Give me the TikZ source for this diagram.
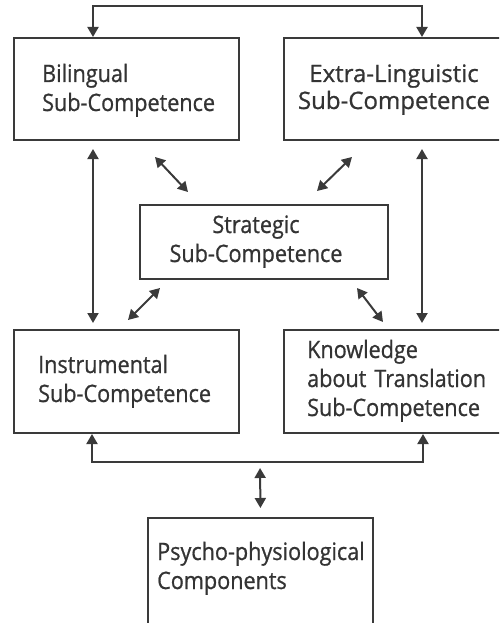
\documentclass[tikz,border=0pt]{standalone}
\usepackage{fontspec}
\setmainfont{Open Sans}
\newfontfamily\lblfont{Open Sans}[FakeBold=0.8, FakeStretch=0.9]
\newfontfamily\widefont{Open Sans}[FakeBold=0.8]
\usetikzlibrary{arrows.meta}
\definecolor{ink}{HTML}{3a3a3a}
\definecolor{txtc}{HTML}{333333}
\tikzset{
  box/.style={draw=ink, line width=2pt, rectangle, inner sep=0pt},
  lbl/.style={inner sep=0pt, text=txtc, text width=240pt,
    font=\lblfont\fontsize{24}{29}\selectfont},
  widelbl/.style={lbl, font=\widefont\fontsize{24}{27}\selectfont},
  arr/.style={draw=ink, line width=2pt,
    {Triangle[length=10pt,width=11pt]}-{Triangle[length=10pt,width=11pt]}}
}
\begin{document}
\begin{tikzpicture}[x=1pt, y=-1pt]
\useasboundingbox (0,0) rectangle (499,623);
\clip (0,0) rectangle (499,623);

% boxes (corner to corner)
\node[box, minimum width=225pt, minimum height=102pt, anchor=north west] (bil) at (13,37) {};
\node[box, minimum width=225pt, minimum height=102pt, anchor=north west] (ext) at (283,37) {};
\node[box, minimum width=248pt, minimum height=74pt, anchor=north west] (str) at (139,204) {};
\node[box, minimum width=225pt, minimum height=103pt, anchor=north west] (ins) at (13,329) {};
\node[box, minimum width=225pt, minimum height=103pt, anchor=north west] (kno) at (283,329) {};
\node[box, minimum width=225pt, minimum height=110pt, anchor=north west] (psy) at (147,517) {};

% labels
\node[lbl, align=left, anchor=base west] (bilT) at (42,82) {Bilingual\\Sub-Competence};
\node[widelbl, align=center, anchor=base] (extT) at (394,82) {Extra-Linguistic\\Sub-Competence};
\node[lbl, align=center, anchor=base] (strT) at (256,233) {Strategic\\Sub-Competence};
\node[lbl, align=left, anchor=base west] (insT) at (38,373) {Instrumental\\Sub-Competence};
\node[lbl, align=left, anchor=base west] (knoT) at (307,358) {Knowledge\\about Translation\\Sub-Competence};
\node[lbl, align=left, anchor=base west] (psyT) at (157,560) {Psycho-physiological\\Components};

% routing points
\coordinate (tl) at (93,6);
\coordinate (tr) at (422,6);
\coordinate (bl) at (92,462);
\coordinate (br) at (423,462);
\coordinate (bm) at (260,462);

% top bracket between Bilingual and Extra-Linguistic
\draw[arr] (bil.north -| tl) -- (tl) -- (tr) -- (ext.north -| tr);

% vertical links
\draw[arr, shorten <=8pt, shorten >=6pt] (bil.south -| tl) -- (ins.north -| tl);
\draw[arr, shorten <=8pt, shorten >=6pt] (ext.south -| tr) -- (kno.north -| tr);

% diagonal links around Strategic
\coordinate (a1) at (155,157); \coordinate (a2) at (188,192);
\coordinate (b1) at (352,157); \coordinate (b2) at (317,191);
\coordinate (c1) at (160,288); \coordinate (c2) at (128,320);
\coordinate (e1) at (357,288); \coordinate (e2) at (383,322);
\draw[arr] (a1) -- (a2);
\draw[arr] (b1) -- (b2);
\draw[arr] (c1) -- (c2);
\draw[arr] (e1) -- (e2);

% bottom bracket
\draw[arr] (ins.south -| bl) -- (bl) -- (br) -- (kno.south -| br);
\draw[arr, shorten <=6pt, shorten >=9pt] (bm) -- (psy.north);
\end{tikzpicture}
\end{document}
